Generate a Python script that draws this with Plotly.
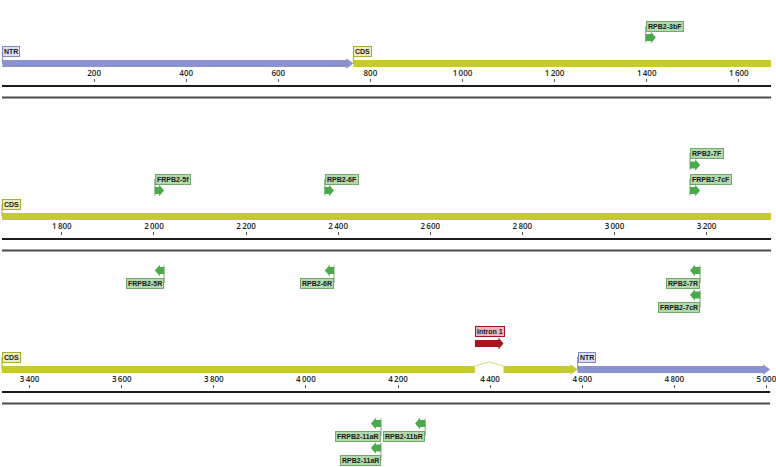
import plotly.graph_objects as go

# ---------------- data (base-pair positions) ----------------
seq_length = 5008
row_starts = [0, 1670, 3340]
row_ends = [1670, 3340, 5008]

region_names = ["NTR", "CDS", "NTR"]
region_starts = [1, 763, 4590]
region_ends = [763, 4590, 5008]
region_kinds = ["ntr", "cds", "ntr"]

intron_names = ["Intron 1"]
intron_starts = [4367]
intron_ends = [4429]

# listed from the track outward when primers share a position
fwd_names = ["RPB2-3bF", "FRPB2-5f", "RPB2-6F", "FRPB2-7cF", "RPB2-7F"]
fwd_starts = [1398, 2002, 2371, 3164, 3164]
fwd_ends = [1420, 2022, 2391, 3186, 3186]

rev_names = ["FRPB2-5R", "RPB2-6R", "RPB2-7R", "FRPB2-7cR",
             "FRPB2-11aR", "RPB2-11aR", "RPB2-11bR"]
rev_starts = [2002, 2371, 3164, 3164, 4141, 4141, 4237]
rev_ends = [2022, 2391, 3186, 3186, 4163, 4163, 4259]

tick_values = [200, 400, 600, 800, 1000, 1200, 1400, 1600,
               1800, 2000, 2200, 2400, 2600, 2800, 3000, 3200,
               3400, 3600, 3800, 4000, 4200, 4400, 4600, 4800, 5000]

# ---------------- styling / layout constants ----------------
W, H = 776, 467
PX_PER_BP = 0.4605
BP_PER_PX = 1 / PX_PER_BP
LEFT_PX = 2
ROW_Y0 = 63.5          # bar centre of first row (px from top)
ROW_STEP = 153

COL = {
    "ntr": dict(fill="#8A93CF", lab="#DCDFF2", border="#7F88C6"),
    "cds": dict(fill="#C5CA33", lab="#EAECBB", border="#A7AC2C"),
    "primer": dict(fill="#4AAA4B", lab="#B2D8AC", border="#6FAA6B"),
    "intron": dict(fill="#A5161F", lab="#E8B6BA", border="#A5161F"),
}
LABEL_FONT = dict(family="Liberation Sans", size=7, color="#1a1a1a")

fig = go.Figure()
annotations = []


def axis_name(r):
    return "x" if r == 0 else f"x{r+1}"


def bar_y(r):
    return ROW_Y0 + ROW_STEP * r


def row_of(pos):
    for r, (s, e) in enumerate(zip(row_starts, row_ends)):
        if s <= pos < e:
            return r
    return len(row_starts) - 1


def poly(xs_ys, r, color, name):
    xs = [p[0] for p in xs_ys] + [xs_ys[0][0]]
    ys = [p[1] for p in xs_ys] + [xs_ys[0][1]]
    fig.add_trace(go.Scatter(x=xs, y=ys, xaxis=axis_name(r), yaxis="y",
                             mode="lines", fill="toself", fillcolor=color,
                             line=dict(width=0, color=color), hoverinfo="skip",
                             showlegend=False, name=name))


def arrow(x0, x1, yc, hb, hh, head_px, direction, head, r, color, name):
    hl = head_px * BP_PER_PX
    if not head:
        pts = [(x0, yc - hb), (x1, yc - hb), (x1, yc + hb), (x0, yc + hb)]
    elif direction > 0:
        xb = x1 - hl
        pts = [(x0, yc - hb), (xb, yc - hb), (xb, yc - hh), (x1, yc),
               (xb, yc + hh), (xb, yc + hb), (x0, yc + hb)]
    else:
        xb = x0 + hl
        pts = [(x1, yc - hb), (xb, yc - hb), (xb, yc - hh), (x0, yc),
               (xb, yc + hh), (xb, yc + hb), (x1, yc + hb)]
    poly(pts, r, color, name)


def vline(x, y0, y1, r, color, width=1):
    fig.add_trace(go.Scatter(x=[x, x], y=[y0, y1], xaxis=axis_name(r), yaxis="y",
                             mode="lines", line=dict(color=color, width=width),
                             hoverinfo="skip", showlegend=False))


def label(text, x, y, r, kind, anchor="left"):
    c = COL[kind]
    annotations.append(dict(
        x=x, y=y, xref=axis_name(r), yref="y", text=f"<b>{text}</b>",
        showarrow=False, xanchor=anchor, yanchor="middle",
        bgcolor=c["lab"], bordercolor=c["border"], borderwidth=1, borderpad=1,
        font=LABEL_FONT))


# ---------------- row baselines (two rules under every row) ----------------
for r in range(len(row_starts)):
    y = bar_y(r)
    for dy, col in [(22.5, "#1c1c1c"), (34.0, "#4a4a4a")]:
        fig.add_trace(go.Scatter(x=[row_starts[r], row_ends[r]], y=[y + dy, y + dy],
                                 xaxis=axis_name(r), yaxis="y", mode="lines",
                                 line=dict(color=col, width=2),
                                 hoverinfo="skip", showlegend=False))

# ---------------- regions (NTR / CDS), split at intron and rows ----------------
for name, s, e, kind in zip(region_names, region_starts, region_ends, region_kinds):
    pieces = [(s, e)]
    for i_s, i_e in zip(intron_starts, intron_ends):
        new = []
        for a, b in pieces:
            if i_s > a and i_e < b:
                new += [(a, i_s), (i_e, b)]
            else:
                new.append((a, b))
        pieces = new
    for r, (rs, re_) in enumerate(zip(row_starts, row_ends)):
        seg_s, seg_e = max(s, rs), min(e, re_)
        if seg_s >= seg_e:
            continue
        y = bar_y(r)
        for a, b in pieces:
            a2, b2 = max(a, rs), min(b, re_)
            if a2 >= b2:
                continue
            head = (b2 == e) and e <= re_
            arrow(a2, b2, y, 3.6, 5.2, 7, 1, head, r, COL[kind]["fill"], name)
        vline(seg_s, y - 12.5, y, r, COL[kind]["border"])
        label(name, seg_s, y - 12.5, r, kind)

# ---------------- introns ----------------
for name, s, e in zip(intron_names, intron_starts, intron_ends):
    r = row_of(s)
    y = bar_y(r)
    mid = (s + e) / 2
    fig.add_trace(go.Scatter(x=[s, mid, e], y=[y - 3.6, y - 7.5, y - 3.6],
                             xaxis=axis_name(r), yaxis="y", mode="lines",
                             line=dict(color="#D3D77A", width=1),
                             hoverinfo="skip", showlegend=False))
    arrow(s, e, y - 26, 3.4, 6, 5, 1, True, r, COL["intron"]["fill"], name)
    label(name, s, y - 38, r, "intron")


# ---------------- primers ----------------
def place_primers(names, starts, ends, direction):
    seen = {}
    for name, s, e in zip(names, starts, ends):
        r = row_of(s)
        lane = seen.get(s, 0)
        seen[s] = lane + 1
        y = bar_y(r)
        if direction > 0:
            ay = y - 26 - 25.5 * lane
            ly = ay - 11.5
            vline(s, ly, ay + 5, r, COL["primer"]["border"])
            arrow(s, e, ay, 3.5, 5.8, 5, 1, True, r, COL["primer"]["fill"], name)
            label(name, s, ly, r, "primer", "left")
        else:
            ay = y + 54 + 24.5 * lane
            ly = ay + 12.5
            vline(e, ay - 5, ly, r, COL["primer"]["border"])
            arrow(s, e, ay, 3.5, 5.8, 5, -1, True, r, COL["primer"]["fill"], name)
            label(name, e, ly, r, "primer", "right")


place_primers(fwd_names, fwd_starts, fwd_ends, 1)
place_primers(rev_names, rev_starts, rev_ends, -1)

# ---------------- axes ----------------
layout_axes = {}
for r, (rs, re_) in enumerate(zip(row_starts, row_ends)):
    lo = rs - LEFT_PX * BP_PER_PX
    hi = lo + W * BP_PER_PX
    tv = [t for t in tick_values if rs < t <= re_]
    tt = [f"{t:,}".replace(",", "\u2009") for t in tv]
    tick_top = bar_y(r) + 14.5
    ax = dict(range=[lo, hi], domain=[0, 1], anchor="free",
              position=1 - tick_top / H, side="top",
              showgrid=False, zeroline=False, showline=False,
              ticks="inside", ticklen=3, tickwidth=1, tickcolor="#555",
              tickvals=tv, ticktext=tt, ticklabelstandoff=0,
              ticklabeloverflow="allow",
              tickfont=dict(family="Open Sans", size=8, color="#222", weight=600),
              fixedrange=True)
    if r > 0:
        ax["overlaying"] = "x"
    layout_axes["xaxis" if r == 0 else f"xaxis{r+1}"] = ax

fig.update_layout(
    width=W, height=H,
    margin=dict(l=0, r=0, t=0, b=0),
    paper_bgcolor="white", plot_bgcolor="white",
    yaxis=dict(range=[H, 0], domain=[0, 1], visible=False, fixedrange=True),
    annotations=annotations,
    showlegend=False,
    **layout_axes,
)

fig.write_html("out.html", config={"displayModeBar": False},
               post_script="document.body.style.margin='0';document.body.style.overflow='hidden';")
